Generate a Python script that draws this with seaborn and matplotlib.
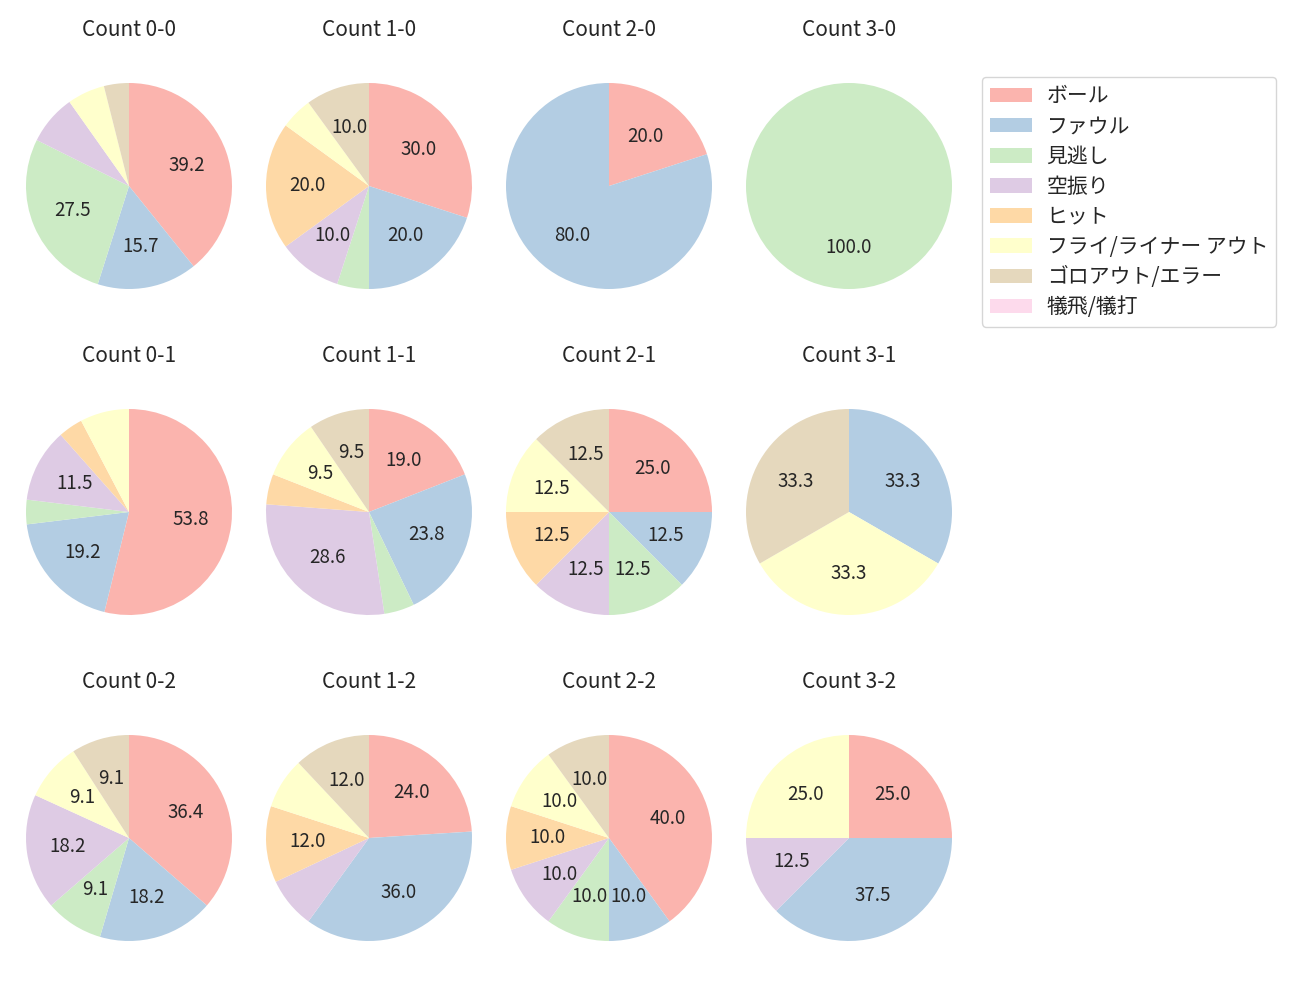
import matplotlib
matplotlib.use('Agg')
import matplotlib.pyplot as plt
import seaborn as sns

sns.set_theme(style='white')
plt.rcParams['font.family'] = ['Noto Sans CJK JP', 'DejaVu Sans']

# 結果の種類
results = ['ボール', 'ファウル', '見逃し', '空振り', 'ヒット',
           'フライ/ライナー アウト', 'ゴロアウト/エラー', '犠飛/犠打']

# カウント別の件数 (results の順)
count_0_0 = [20, 8, 14, 4, 0, 3, 2, 0]
count_1_0 = [6, 4, 1, 2, 4, 1, 2, 0]
count_2_0 = [1, 4, 0, 0, 0, 0, 0, 0]
count_3_0 = [0, 0, 1, 0, 0, 0, 0, 0]
count_0_1 = [14, 5, 1, 3, 1, 2, 0, 0]
count_1_1 = [4, 5, 1, 6, 1, 2, 2, 0]
count_2_1 = [2, 1, 1, 1, 1, 1, 1, 0]
count_3_1 = [0, 1, 0, 0, 0, 1, 1, 0]
count_0_2 = [4, 2, 1, 2, 0, 1, 1, 0]
count_1_2 = [6, 9, 0, 2, 3, 2, 3, 0]
count_2_2 = [4, 1, 1, 1, 1, 1, 1, 0]
count_3_2 = [2, 3, 0, 1, 0, 2, 0, 0]

counts = {
    '0-0': count_0_0, '1-0': count_1_0, '2-0': count_2_0, '3-0': count_3_0,
    '0-1': count_0_1, '1-1': count_1_1, '2-1': count_2_1, '3-1': count_3_1,
    '0-2': count_0_2, '1-2': count_1_2, '2-2': count_2_2, '3-2': count_3_2,
}

colors = sns.color_palette('Pastel1', 8)

fig = plt.figure(figsize=(13, 10), dpi=100)

W, H = 1300, 1000
size = 257.5  # 軸の一辺 (px)
col_x = [129, 369, 609, 849]
row_y = [186, 512, 838]

def autopct(p):
    return f'{p:.1f}' if p >= 9 else ''

handles = None
for key, vals in counts.items():
    balls, strikes = key.split('-')
    cx = col_x[int(balls)]
    cy = row_y[int(strikes)]
    ax = fig.add_axes([(cx - size / 2) / W, 1 - (cy + size / 2) / H, size / W, size / H])
    wedges, _, _ = ax.pie(vals, colors=colors, startangle=90, counterclock=False,
                          autopct=autopct, pctdistance=0.6,
                          wedgeprops={'linewidth': 0},
                          textprops={'fontsize': 13.5})
    ax.set_title(f'Count {key}', fontsize=15, pad=15)
    if handles is None:
        handles = wedges

fig.legend(handles, results, loc='upper left', bbox_to_anchor=(982 / W, 1 - 77 / H),
           borderaxespad=0, fontsize=15, handlelength=2.0, handletextpad=0.7,
           labelspacing=0.39, frameon=True)

fig.savefig('out.png', dpi=100)
